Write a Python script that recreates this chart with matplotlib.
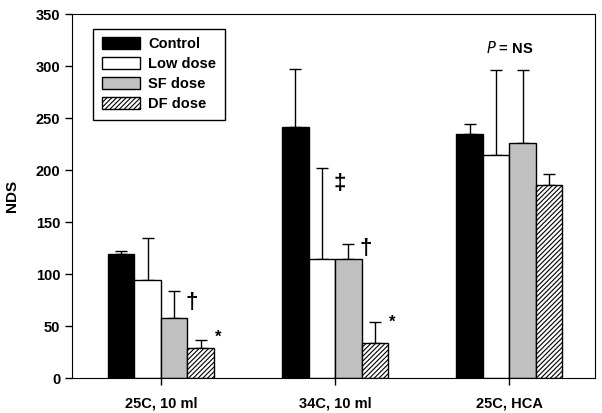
import numpy as np
import matplotlib.pyplot as plt

plt.rcParams['font.family'] = ['Liberation Sans', 'DejaVu Sans']
plt.rcParams['hatch.linewidth'] = 0.8

groups = ['25C, 10 ml', '34C, 10 ml', '25C, HCA']
series = ['Control', 'Low dose', 'SF dose', 'DF dose']

control = [119, 241, 235]
low_dose = [94, 114, 214]
sf_dose = [58, 114, 226]
df_dose = [29, 34, 186]

control_err = [3, 56, 9]
low_err = [41, 88, 82]
sf_err = [26, 15, 70]
df_err = [8, 20, 10]

values = [control, low_dose, sf_dose, df_dose]
errors = [control_err, low_err, sf_err, df_err]
colors = ['black', 'white', '#c0c0c0', 'white']
hatches = [None, None, None, '///////']

fig = plt.figure(figsize=(6.02, 4.13), dpi=100)
ax = fig.add_axes([0.1196, 0.0847, 0.8684, 0.8813])

x = np.arange(len(groups))
w = 0.152
offsets = [-1.5 * w, -0.5 * w, 0.5 * w, 1.5 * w]

for vals, errs, c, h, off, name in zip(values, errors, colors, hatches, offsets, series):
    ax.bar(x + off, vals, w, color=c, edgecolor='black', linewidth=1,
           hatch=h, label=name, zorder=2)
    ax.errorbar(x + off, vals, yerr=[np.zeros(len(vals)), errs], fmt='none',
                ecolor='black', elinewidth=1, capsize=4, capthick=1, zorder=1)

# significance markers
ax.text(x[0] + offsets[2] + 0.1, 63, '\u2020', fontsize=16, fontweight='bold', ha='center', va='bottom')
ax.text(x[0] + offsets[3] + 0.1, 32, '*', fontsize=12, fontweight='bold', ha='center', va='bottom')
ax.text(x[1] + offsets[1] + 0.1, 177, '\u2021', fontsize=16, fontweight='bold', ha='center', va='bottom')
ax.text(x[1] + offsets[2] + 0.1, 114, '\u2020', fontsize=16, fontweight='bold', ha='center', va='bottom')
ax.text(x[1] + offsets[3] + 0.1, 46, '*', fontsize=12, fontweight='bold', ha='center', va='bottom')
ax.text(x[2], 310, r'$\it{P}$' + ' = NS', fontsize=10.5, fontweight='bold', ha='center', va='bottom')

ax.set_xlim(-0.51, 2.49)
ax.set_ylim(0, 350)
ax.set_yticks(range(0, 351, 50))
ax.set_xticks(x)
ax.set_xticklabels(groups, fontsize=10.5, fontweight='bold')
for lbl in ax.get_yticklabels():
    lbl.set_fontweight('bold')
    lbl.set_fontsize(10.5)
ax.tick_params(axis='both', direction='out', length=5, width=1)
ax.tick_params(axis='x', pad=8)
ax.set_ylabel('NDS', fontsize=11, fontweight='bold', labelpad=12)

leg = ax.legend(loc='upper left', bbox_to_anchor=(0.04, 0.96), borderaxespad=0,
                fancybox=False, edgecolor='black', framealpha=1,
                prop={'weight': 'bold', 'size': 10.5},
                handlelength=2.6, handleheight=0.9, labelspacing=0.4, borderpad=0.6,
                handletextpad=0.6)
leg.get_frame().set_linewidth(1)

plt.savefig('out.png', dpi=100)
